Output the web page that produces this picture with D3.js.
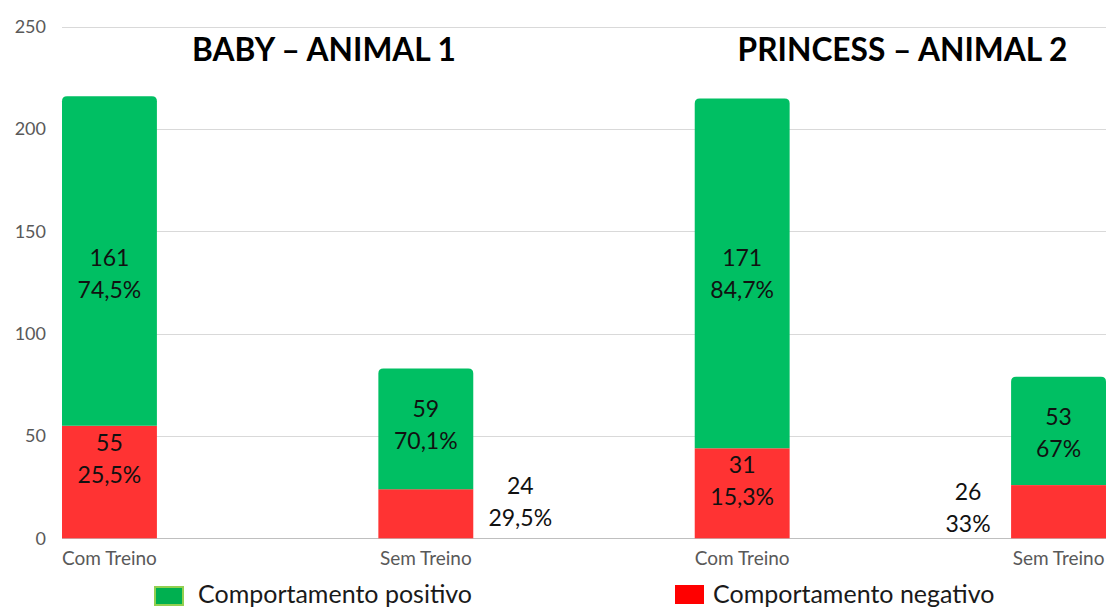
<!DOCTYPE html>
<html>
<head>
<meta charset="utf-8">
<script src="https://cdn.jsdelivr.net/npm/d3@7"></script>
<style>
  html, body { margin: 0; padding: 0; background: #fff; }
  svg { display: block; }
</style>
</head>
<body>
<svg id="chart" width="1109" height="608"></svg>
<script>
// ---- data ----
const categories = ["Com Treino", "Sem Treino", "Com Treino", "Sem Treino"];
const positive = [161, 59, 171, 53];
const negative = [55, 24, 44, 26];
const posCountLabels = ["161", "59", "171", "53"];
const posPctLabels = ["74,5%", "70,1%", "84,7%", "67%"];
const negCountLabels = ["55", "24", "31", "26"];
const negPctLabels = ["25,5%", "29,5%", "15,3%", "33%"];
const yTicks = [0, 50, 100, 150, 200, 250];
const titles = ["BABY – ANIMAL 1", "PRINCESS – ANIMAL 2"];
const seriesNames = ["Comportamento positivo", "Comportamento negativo"];

// ---- layout (label anchors in data units / placement) ----
const posLabelAt = [129, 55.6, 129.2, 51.5];
const negLabelAt = [39, 17.5, 28, 15];
const negLabelPlace = ["in", "right", "in", "left"];

const svg = d3.select("#chart");
const x0 = 62, x1 = 1106, yBase = 538.3, yTop = 26.8;

const idx = d3.range(categories.length);
const x = d3.scaleBand().domain(idx).range([x0, x1]).paddingInner(0.7).paddingOuter(0);
const y = d3.scaleLinear().domain([0, 250]).range([yBase, yTop]);

const GREEN = "#00bf63", RED = "#ff3333";
const font = "Lato, 'Open Sans', sans-serif";

// gridlines
svg.append("g").selectAll("line").data(yTicks).join("line")
  .attr("x1", x0).attr("x2", x1)
  .attr("y1", d => Math.round(y(d)) + 0.5).attr("y2", d => Math.round(y(d)) + 0.5)
  .attr("stroke", d => d === 0 ? "#bfbfbf" : "#d9d9d9").attr("stroke-width", 1);

// y axis labels
const yAxis = d3.axisLeft(y).tickValues(yTicks).tickSize(0).tickPadding(0).tickFormat(d3.format("d"));
const gy = svg.append("g").attr("transform", "translate(46,0)").call(yAxis);
gy.select(".domain").remove();
gy.selectAll("text").attr("font-family", font).attr("font-size", 18).attr("fill", "#595959");

// x axis labels
const xAxis = d3.axisBottom(x).tickSize(0).tickPadding(0).tickFormat(i => categories[i]);
const gx = svg.append("g").attr("transform", "translate(0,551.5)").call(xAxis);
gx.select(".domain").remove();
gx.selectAll("text").attr("font-family", font).attr("font-size", 19).attr("fill", "#595959");

// bars
const r = 5;
const bw = x.bandwidth();
svg.append("g").selectAll("rect").data(idx).join("rect")
  .attr("x", i => x(i)).attr("width", bw)
  .attr("y", i => y(negative[i])).attr("height", i => y(0) - y(negative[i]))
  .attr("fill", RED);

function topRounded(xl, yt, w, h, rr) {
  return `M${xl},${yt + h} L${xl},${yt + rr} Q${xl},${yt} ${xl + rr},${yt} L${xl + w - rr},${yt} Q${xl + w},${yt} ${xl + w},${yt + rr} L${xl + w},${yt + h} Z`;
}
svg.append("g").selectAll("path").data(idx).join("path")
  .attr("d", i => {
    const yt = y(negative[i] + positive[i]);
    const yb = y(negative[i]);
    return topRounded(x(i), yt, bw, yb - yt, r);
  })
  .attr("fill", GREEN);

// value labels
const lab = svg.append("g").attr("font-family", font).attr("font-size", 23).attr("fill", "#111").attr("text-anchor", "middle");
function twoLine(cx, cy, a, b) {
  lab.append("text").attr("x", cx).attr("y", cy - 16 + 8).text(a);
  lab.append("text").attr("x", cx).attr("y", cy + 16 + 8).text(b);
}
idx.forEach(i => {
  const cx = x(i) + bw / 2;
  twoLine(cx, y(posLabelAt[i]), posCountLabels[i], posPctLabels[i]);
  let nx = cx;
  if (negLabelPlace[i] === "right") nx = x(i) + bw + 47;
  if (negLabelPlace[i] === "left") nx = x(i) - 43;
  twoLine(nx, y(negLabelAt[i]), negCountLabels[i], negPctLabels[i]);
});

// titles
const titleX = [324, 902.5];
svg.append("g").selectAll("text").data(titles).join("text")
  .attr("x", (d, i) => titleX[i]).attr("y", 61)
  .attr("text-anchor", "middle")
  .attr("font-family", font).attr("font-weight", "bold").attr("font-size", 31.7)
  .attr("fill", "#000").text(d => d);

// legend
const leg = svg.append("g");
leg.append("rect").attr("x", 155).attr("y", 587).attr("width", 28).attr("height", 18)
  .attr("fill", "#00b050").attr("stroke", "#92d050").attr("stroke-width", 2);
leg.append("text").attr("x", 198).attr("y", 603).attr("font-family", font).attr("font-size", 25)
  .attr("fill", "#1a1a1a").text(seriesNames[0]);
leg.append("rect").attr("x", 675).attr("y", 585).attr("width", 29).attr("height", 19)
  .attr("fill", "#ff0000");
leg.append("text").attr("x", 713).attr("y", 603).attr("font-family", font).attr("font-size", 25)
  .attr("fill", "#1a1a1a").text(seriesNames[1]);
</script>
</body>
</html>
